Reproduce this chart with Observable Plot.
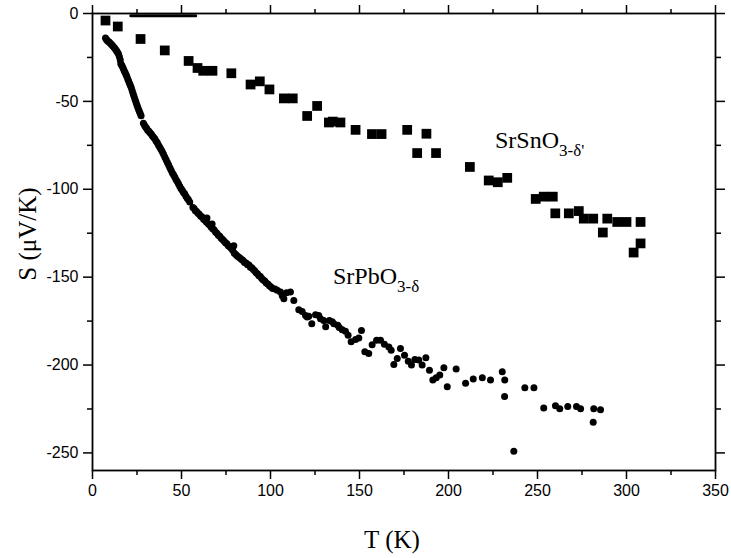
<!DOCTYPE html>
<html>
<head>
<meta charset="utf-8">
<script src="https://cdn.jsdelivr.net/npm/d3@7"></script>
<script src="https://cdn.jsdelivr.net/npm/@observablehq/plot@0.6"></script>
<style>
  html, body { margin: 0; padding: 0; background: #fff; }
</style>
</head>
<body>
<div id="chart"></div>
<script>
// Tick values
const xMajor = [0, 50, 100, 150, 200, 250, 300, 350];
const xMinor = [25, 75, 125, 175, 225, 275, 325];
const yMajor = [0, -50, -100, -150, -200, -250];
const yMinor = [-25, -75, -125, -175, -225];

// SrSnO3-δ' (squares): [T (K), S (µV/K)]
const snPoints = [
  [7.3, -4], [14.2, -7.4], [27, -14.5], [40.6, -21], [54, -27], [59, -31],
  [62.2, -32.6], [67.4, -32.6], [78, -34], [88.8, -40.4], [94, -38.6],
  [99.4, -43.2], [107.5, -48.3], [112.5, -48.3], [120.6, -58.3], [126.2, -52.6],
  [132.8, -62], [135, -61.5], [139.3, -62], [147.8, -66.2], [157, -68.6],
  [162.4, -68.6], [176.8, -66.2], [182.4, -79.4], [187.6, -68.4], [193, -79.4],
  [212, -87.3], [222.6, -95], [227.7, -96], [233, -93.5], [249, -105.5],
  [253.5, -104.2], [258.6, -104.2], [260, -113.7], [267.6, -113.7], [273.2, -112.4],
  [276, -116.7], [281.3, -116.7], [286.7, -124.6], [289.2, -116.7], [294.8, -118.6],
  [300, -118.6], [304, -136], [307.9, -130.8], [307.9, -118.6]
];

// SrPbO3-δ (circles): [T (K), S (µV/K)]
const pbPoints = [
  [7.3, -14.0], [7.8, -14.8], [8.3, -15.3], [8.9, -15.9], [9.5, -16.4], [10.1, -17.0],
  [10.7, -17.6], [11.3, -18.3], [11.9, -19.0], [12.5, -19.8], [13.1, -20.6], [13.6, -21.4],
  [14.1, -22.2], [14.6, -23.0], [15.1, -24.6], [15.6, -26.4], [15.9, -28.6], [16.3, -29.3],
  [16.8, -30.2], [17.3, -31.3], [17.8, -32.5], [18.3, -33.6], [18.8, -34.7], [19.3, -35.9],
  [19.8, -37.3], [20.3, -38.5], [20.8, -39.8], [21.3, -41.0], [21.8, -42.3], [22.3, -43.9],
  [22.8, -45.5], [23.3, -47.1], [23.8, -48.6], [24.3, -50.1], [24.8, -51.6], [25.3, -53.0],
  [25.8, -54.4], [26.3, -55.6], [26.8, -56.9], [27.3, -58.2],
  [28.6, -62.4], [29.2, -63.6], [29.8, -64.6], [30.4, -65.3], [31.0, -66.4], [31.7, -67.0],
  [32.3, -67.8], [33.0, -68.6], [33.6, -69.5], [34.3, -70.4], [35.0, -71.3], [35.7, -72.5],
  [36.4, -73.6], [37.1, -74.9], [37.8, -76.1], [38.5, -77.4], [39.2, -78.6], [39.9, -80.1],
  [40.6, -81.7], [41.3, -83.0], [42.0, -84.6], [42.7, -86.0], [43.4, -87.6], [44.1, -89.0],
  [44.8, -90.6], [45.5, -91.7], [46.2, -93.0], [46.9, -94.5], [47.6, -95.6], [48.3, -96.9],
  [49.0, -98.3], [49.7, -99.6], [50.4, -100.6], [51.1, -101.8], [51.8, -102.6], [52.5, -104.0],
  [53.2, -105.1], [53.9, -106.0], [54.6, -107.2],
  [56.4, -110.4], [57.1, -111.0], [57.8, -112.2], [58.5, -112.7], [59.3, -113.6], [60.0, -114.2],
  [60.8, -115.3], [61.6, -115.8], [62.4, -117.1], [63.2, -117.6], [64.0, -118.6], [64.3, -116.4],
  [65.0, -119.6], [65.8, -120.3], [66.6, -121.5], [67.2, -119.8], [67.5, -122.4], [68.3, -123.0],
  [69.1, -124.3], [69.9, -125.0], [70.7, -126.1], [71.5, -126.7], [72.3, -127.9], [73.1, -128.6],
  [73.9, -129.5], [74.7, -130.4], [75.5, -131.0], [76.3, -132.2], [77.1, -132.7], [77.9, -133.6],
  [78.7, -134.5], [79.4, -132.2], [79.6, -136.3], [80.5, -137.1], [81.3, -137.9], [82.1, -138.5],
  [83.0, -139.2], [83.8, -140.0], [84.6, -140.5], [85.4, -141.6], [86.3, -141.9], [87.1, -142.9],
  [87.9, -143.1], [88.7, -144.3], [89.5, -144.6], [90.3, -145.7], [91.1, -146.4], [91.9, -147.5],
  [92.7, -148.0], [93.5, -149.2], [94.3, -149.6], [95.1, -150.8], [95.9, -151.6], [96.8, -152.2],
  [97.6, -153.3], [98.5, -153.9], [99.4, -154.9], [100.3, -155.6], [101.2, -156.4],
  [102.5, -156.8], [103.8, -157.5], [105.6, -158.5], [106.6, -160.6], [107.5, -162.3], [109.0, -158.9],
  [111.2, -158.5], [113.1, -163.3], [115.9, -168.6], [117.8, -169.5], [119.7, -171.8], [120.6, -172.7],
  [121.5, -172.3], [123.2, -176.5], [125.3, -171.4], [127.1, -171.8], [128.1, -173.6], [129.9, -174.6],
  [131.0, -178.2], [133.1, -174.6], [134.7, -175.4], [135.6, -176.5], [137.8, -177.4], [138.6, -178.6],
  [140.3, -179.9], [142.1, -180.8], [143.6, -183.0], [145.3, -186.8], [147.8, -185.5], [149.6, -184.6],
  [151.1, -180.3], [153.0, -192.5], [155.2, -193.4], [157.1, -188.4], [159.6, -185.9], [161.8, -185.9],
  [164.0, -188.2], [166.5, -189.7], [167.8, -191.6], [169.3, -199.7], [171.2, -196.3], [173.0, -190.6],
  [175.3, -194.4], [177.4, -197.8], [179.2, -200.0], [181.1, -196.8], [183.3, -197.2], [185.2, -200.0],
  [187.3, -195.9], [189.3, -202.9], [191.2, -208.5], [193.1, -207.2], [195.1, -205.7], [197.4, -201.5],
  [199.3, -212.3], [204.3, -202.3], [209.6, -210.4], [213.9, -208.0], [219.0, -207.2], [223.6, -208.5],
  [230.2, -203.8], [231.6, -208.5], [231.5, -217.9], [236.7, -249.0], [242.9, -212.9], [248.0, -212.9],
  [253.5, -224.5], [260.1, -223.2], [262.5, -224.9], [267.0, -223.6], [271.9, -223.6], [274.2, -224.9],
  [281.3, -232.6], [281.6, -224.9], [285.4, -225.5]
];

// Flat run of points near S = 0
const flatPoints = [[21.5, -1.3], [30, -1.3], [40, -1.3], [50, -1.3], [58, -1.3]];

// Annotation labels: [T, S, main, subscript]
const labelT = [226.4, 135.4];
const labelS = [-76.9, -154.4];
const labelMain = ["SrSnO", "SrPbO"];
const labelSub = ["3-\u03B4'", "3-\u03B4"];

const sans = "Liberation Sans, Arial, sans-serif";
const serif = "Liberation Serif, Times New Roman, serif";
const fmt = d => String(d);
const blank = () => "";

const chart = Plot.plot({
  width: 731,
  height: 558,
  marginLeft: 92,
  marginRight: 16,
  marginTop: 13,
  marginBottom: 88,
  x: {domain: [0, 350]},
  y: {domain: [-260, 0]},
  style: {background: "white", color: "black"},
  marks: [
    Plot.axisX(xMajor, {anchor: "bottom", tickSize: 9, tickPadding: 5, tickFormat: fmt, fontSize: 16, fontFamily: sans, label: null, strokeWidth: 1.5}),
    Plot.axisX(xMinor, {anchor: "bottom", tickSize: 5, tickFormat: blank, label: null, strokeWidth: 1.5}),
    Plot.axisX(xMajor, {anchor: "top", tickSize: 9, tickFormat: blank, label: null, strokeWidth: 1.5}),
    Plot.axisX(xMinor, {anchor: "top", tickSize: 5, tickFormat: blank, label: null, strokeWidth: 1.5}),
    Plot.axisY(yMajor, {anchor: "left", tickSize: 9, tickPadding: 5, tickFormat: fmt, fontSize: 16, fontFamily: sans, label: null, strokeWidth: 1.5}),
    Plot.axisY(yMinor, {anchor: "left", tickSize: 5, tickFormat: blank, label: null, strokeWidth: 1.5}),
    Plot.axisY(yMajor, {anchor: "right", tickSize: 9, tickFormat: blank, label: null, strokeWidth: 1.5}),
    Plot.axisY(yMinor, {anchor: "right", tickSize: 5, tickFormat: blank, label: null, strokeWidth: 1.5}),
    Plot.frame({stroke: "black", strokeWidth: 1.8}),
    Plot.line(flatPoints, {x: d => d[0], y: d => d[1], stroke: "black", strokeWidth: 3, strokeLinecap: "round"}),
    Plot.dot(snPoints, {x: d => d[0], y: d => d[1], symbol: "square", r: 5.5, fill: "black", stroke: "none"}),
    Plot.dot(pbPoints, {x: d => d[0], y: d => d[1], r: 3.5, fill: "black", stroke: "none"})
  ]
});

document.getElementById("chart").appendChild(chart);

const svg = d3.select(chart);
const xs = chart.scale("x");
const ys = chart.scale("y");

labelT.forEach((t, i) => {
  const txt = svg.append("text")
    .attr("x", xs.apply(t))
    .attr("y", ys.apply(labelS[i]))
    .attr("text-anchor", "start")
    .attr("font-family", serif)
    .attr("font-size", 24)
    .attr("fill", "black")
    .text(labelMain[i]);
  txt.append("tspan")
    .attr("font-size", 17)
    .attr("dy", 8)
    .text(labelSub[i]);
});

svg.append("text")
  .attr("x", 392)
  .attr("y", 548)
  .attr("text-anchor", "middle")
  .attr("font-family", serif)
  .attr("font-size", 25)
  .attr("fill", "black")
  .text("T (K)");

svg.append("text")
  .attr("transform", "translate(36,234) rotate(-90)")
  .attr("text-anchor", "middle")
  .attr("font-family", serif)
  .attr("font-size", 25)
  .attr("fill", "black")
  .text("S (\u03BCV/K)");
</script>
</body>
</html>
